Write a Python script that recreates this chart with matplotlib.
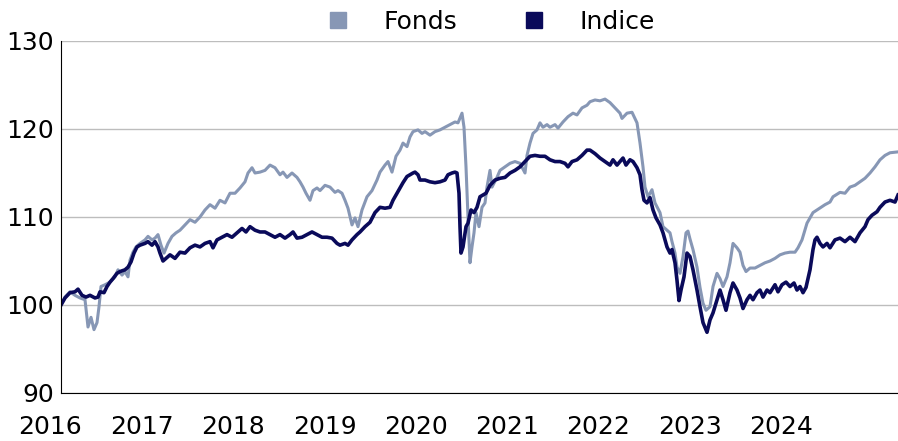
import numpy as np
import pandas as pd
import matplotlib
matplotlib.use("Agg")
import matplotlib.pyplot as plt
import matplotlib.dates as mdates
from matplotlib.lines import Line2D

# Base 100 au départ, dates en jours depuis le début de la série
debut = pd.Timestamp("2016-02-12")

jours_fonds = [
    0, 16, 36, 56, 76, 96, 108, 120, 132, 144, 152, 160, 176, 196, 216, 228, 244, 256, 268, 276,
    288, 300, 316, 336, 348, 364, 376, 388, 400, 412, 428, 444, 460, 476, 496, 516, 536, 556, 576, 596,
    616, 636, 656, 676, 696, 716, 736, 748, 764, 776, 796, 816, 836, 856, 876, 888, 904, 924, 944, 956,
    968, 980, 996, 1008, 1024, 1036, 1056, 1076, 1096, 1108, 1124, 1136, 1148, 1164, 1176, 1188, 1204, 1224, 1244, 1264,
    1276, 1296, 1308, 1324, 1340, 1356, 1368, 1384, 1396, 1408, 1428, 1444, 1456, 1476, 1496, 1516, 1536, 1556, 1576, 1588,
    1604, 1612, 1620, 1628, 1636, 1644, 1652, 1660, 1672, 1684, 1696, 1704, 1716, 1724, 1744, 1756, 1776, 1796, 1816, 1836,
    1856, 1864, 1876, 1888, 1904, 1916, 1928, 1944, 1956, 1976, 1988, 2008, 2028, 2048, 2064, 2084, 2104, 2116, 2136, 2156,
    2176, 2196, 2216, 2236, 2244, 2264, 2284, 2304, 2316, 2328, 2336, 2348, 2364, 2376, 2396, 2408, 2424, 2436, 2444, 2456,
    2464, 2476, 2488, 2500, 2508, 2516, 2528, 2544, 2556, 2568, 2580, 2596, 2608, 2624, 2636, 2648, 2664, 2676, 2688, 2704,
    2716, 2728, 2740, 2756, 2776, 2796, 2816, 2836, 2856, 2876, 2896, 2916, 2936, 2948, 2964, 2984, 3008, 3024, 3056, 3076,
    3088, 3116, 3136, 3156, 3176, 3196, 3216, 3236, 3256, 3276, 3296, 3316, 3348,
]
fonds = [
    100.0, 100.9, 101.5, 101.1, 100.8, 100.6, 97.5, 98.6, 97.2, 98.0, 99.8, 102.1, 102.3, 102.6, 103.2, 104.0, 103.4, 103.8, 103.2, 105.1,
    106.0, 106.6, 107.0, 107.4, 107.8, 107.4, 107.6, 108.0, 106.8, 105.9, 107.0, 107.8, 108.2, 108.5, 109.1, 109.7, 109.4, 110.0, 110.8, 111.4,
    111.0, 111.9, 111.6, 112.7, 112.7, 113.3, 114.0, 115.0, 115.6, 115.0, 115.1, 115.3, 115.9, 115.6, 114.8, 115.1, 114.5, 115.0, 114.5, 114.0,
    113.4, 112.7, 111.9, 113.0, 113.3, 113.0, 113.6, 113.4, 112.8, 113.0, 112.7, 111.9, 111.0, 109.1, 109.9, 108.9, 110.8, 112.3, 113.0, 114.2,
    115.1, 115.9, 116.3, 115.1, 116.9, 117.6, 118.4, 118.0, 119.1, 119.7, 119.9, 119.5, 119.7, 119.3, 119.7, 119.9, 120.2, 120.5, 120.8, 120.7,
    121.8, 120.2, 115.7, 110.0, 104.8, 106.6, 108.2, 110.5, 108.9, 111.1, 111.6, 113.4, 115.3, 113.4, 114.5, 115.3, 115.7, 116.1, 116.3, 116.1,
    115.0, 117.0, 118.4, 119.5, 119.9, 120.7, 120.2, 120.5, 120.2, 120.5, 120.1, 120.8, 121.4, 121.8, 121.6, 122.4, 122.7, 123.1, 123.3, 123.2,
    123.4, 123.0, 122.4, 121.8, 121.2, 121.8, 121.9, 120.7, 118.4, 115.7, 113.4, 112.3, 113.1, 111.6, 110.5, 108.9, 108.5, 108.2, 107.2, 105.9,
    104.3, 103.6, 105.5, 108.2, 108.4, 107.5, 106.3, 104.3, 102.0, 100.2, 99.4, 99.8, 102.1, 103.6, 103.0, 102.1, 103.2, 104.8, 107.0, 106.5,
    106.0, 104.5, 103.8, 104.2, 104.2, 104.5, 104.8, 105.0, 105.3, 105.7, 105.9, 106.0, 106.0, 106.5, 107.4, 109.3, 110.5, 110.8, 111.4, 111.7,
    112.3, 112.8, 112.7, 113.4, 113.6, 114.0, 114.4, 115.0, 115.7, 116.5, 117.0, 117.3, 117.4,
]

jours_indice = [
    0, 16, 36, 56, 68, 84, 100, 116, 136, 148, 156, 172, 184, 196, 208, 224, 236, 256, 268, 280,
    292, 304, 316, 336, 348, 364, 376, 388, 396, 408, 420, 436, 456, 476, 496, 516, 536, 556, 576, 596,
    608, 624, 644, 664, 684, 704, 724, 740, 756, 776, 796, 816, 836, 856, 876, 896, 916, 928, 944, 964,
    984, 1004, 1024, 1044, 1064, 1084, 1104, 1116, 1136, 1148, 1164, 1184, 1196, 1216, 1236, 1256, 1276, 1296, 1316, 1328,
    1344, 1356, 1368, 1384, 1396, 1408, 1416, 1428, 1436, 1456, 1476, 1496, 1516, 1536, 1548, 1564, 1576, 1584, 1592, 1596,
    1600, 1608, 1620, 1628, 1640, 1652, 1664, 1676, 1688, 1700, 1716, 1736, 1756, 1776, 1796, 1816, 1836, 1856, 1876, 1896,
    1916, 1936, 1956, 1976, 1996, 2016, 2028, 2044, 2064, 2084, 2104, 2116, 2136, 2156, 2176, 2196, 2208, 2224, 2236, 2248,
    2260, 2276, 2288, 2304, 2316, 2324, 2332, 2344, 2356, 2368, 2380, 2396, 2408, 2424, 2436, 2444, 2456, 2464, 2472, 2480,
    2492, 2504, 2516, 2528, 2544, 2556, 2568, 2584, 2596, 2608, 2624, 2636, 2648, 2660, 2676, 2688, 2704, 2716, 2728, 2744,
    2756, 2768, 2784, 2796, 2808, 2824, 2836, 2856, 2868, 2884, 2900, 2916, 2932, 2944, 2956, 2968, 2980, 2996, 3008, 3016,
    3024, 3036, 3048, 3064, 3076, 3096, 3116, 3136, 3156, 3176, 3196, 3216, 3228, 3244, 3264, 3276, 3296, 3316, 3336, 3348,
]
indice = [
    100.0, 100.8, 101.4, 101.5, 101.8, 101.1, 100.9, 101.1, 100.8, 100.9, 101.5, 101.4, 102.1, 102.6, 103.0, 103.6, 103.8, 104.0, 104.3, 104.9,
    105.9, 106.6, 106.8, 107.0, 107.2, 106.8, 107.2, 106.6, 105.9, 105.0, 105.3, 105.7, 105.3, 106.0, 105.9, 106.5, 106.8, 106.6, 107.0, 107.2,
    106.5, 107.4, 107.7, 108.0, 107.7, 108.2, 108.7, 108.3, 108.9, 108.5, 108.3, 108.3, 108.0, 107.7, 108.0, 107.6, 108.0, 108.3, 107.6, 107.7,
    108.0, 108.3, 108.0, 107.7, 107.7, 107.6, 107.0, 106.8, 107.0, 106.8, 107.4, 108.0, 108.3, 108.9, 109.4, 110.5, 111.1, 111.0, 111.1, 111.9,
    112.7, 113.3, 113.9, 114.6, 114.8, 115.0, 115.1, 114.8, 114.2, 114.2, 114.0, 113.9, 114.0, 114.2, 114.8, 115.0, 115.1, 115.0, 112.7, 108.9,
    105.9, 106.6, 108.9, 109.3, 110.8, 110.5, 111.1, 112.3, 112.5, 112.7, 113.6, 114.2, 114.4, 114.5, 115.0, 115.3, 115.7, 116.3, 116.9, 117.0,
    116.9, 116.9, 116.5, 116.3, 116.3, 116.1, 115.7, 116.3, 116.5, 117.0, 117.6, 117.6, 117.2, 116.7, 116.3, 115.9, 116.5, 115.9, 116.3, 116.7,
    115.9, 116.5, 116.3, 115.6, 114.8, 113.1, 111.9, 111.6, 112.2, 110.8, 109.9, 109.1, 108.2, 106.6, 105.9, 106.3, 104.8, 102.8, 100.5, 101.7,
    103.2, 105.9, 105.5, 104.0, 101.7, 99.8, 98.0, 96.9, 98.3, 99.1, 100.6, 101.7, 100.6, 99.4, 101.4, 102.5, 101.7, 100.8, 99.6, 100.6,
    101.1, 100.6, 101.4, 101.7, 100.9, 101.7, 101.4, 102.3, 101.5, 102.3, 102.6, 102.1, 102.5, 101.7, 102.1, 101.4, 102.0, 104.0, 106.3, 107.4,
    107.7, 107.0, 106.6, 107.0, 106.5, 107.4, 107.6, 107.2, 107.7, 107.2, 108.2, 108.9, 109.7, 110.2, 110.6, 111.1, 111.7, 111.9, 111.7, 112.5,
]

annees = list(range(2016, 2025))
couleur_fonds = "#8797b5"
couleur_indice = "#0a0a5a"

x_fonds = debut + pd.to_timedelta(jours_fonds, unit="D")
x_indice = debut + pd.to_timedelta(jours_indice, unit="D")

fig = plt.figure(figsize=(8.98, 4.41), dpi=100)
ax = fig.add_axes([61 / 898, 1 - 393 / 441, 837 / 898, 352 / 441])

ax.plot(x_fonds, fonds, color=couleur_fonds, lw=2.2)
ax.plot(x_indice, indice, color=couleur_indice, lw=2.6)

ax.set_xlim(x_fonds[0], x_fonds[-1])
ax.set_ylim(90, 130)
ax.set_yticks([90, 100, 110, 120, 130])
ax.yaxis.grid(True, color="#bdbdbd", lw=1)
ax.set_axisbelow(True)
ax.tick_params(axis="y", length=0, pad=5, labelsize=18)
ax.set_xticks([])
for s in ["top", "right"]:
    ax.spines[s].set_visible(False)
ax.spines["left"].set_color("black")
ax.spines["bottom"].set_color("black")

# libellés des années au 1er janvier (2016 tombe avant le début des données)
trans = matplotlib.transforms.blended_transform_factory(ax.transData, ax.transAxes)
for a in annees:
    ax.text(mdates.date2num(pd.Timestamp(f"{a}-01-01")), -0.097, str(a), transform=trans,
            ha="center", va="center", fontsize=18, clip_on=False)

poignees = [Line2D([], [], ls="none", marker="s", ms=12, color=couleur_fonds),
            Line2D([], [], ls="none", marker="s", ms=12, color=couleur_indice)]
fig.legend(poignees, ["Fonds", "Indice"], loc="center", bbox_to_anchor=(484 / 898, 1 - 22 / 441),
           ncol=2, frameon=False, fontsize=18, handletextpad=0.8, columnspacing=2.1, borderpad=0)

fig.savefig("out.png", dpi=100)
